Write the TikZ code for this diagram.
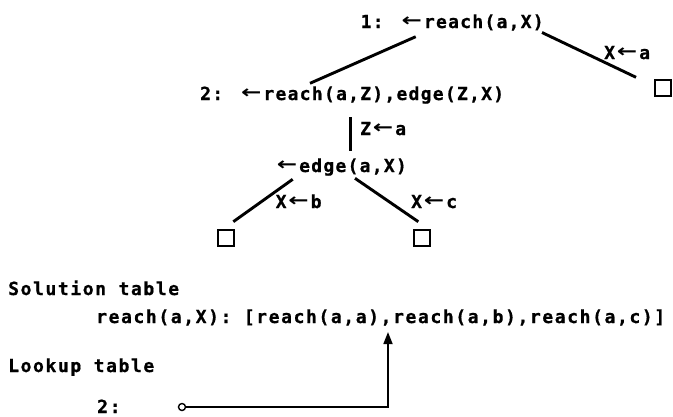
\documentclass[tikz,border=0pt]{standalone}
\usepackage{fontspec}
\usepackage{graphicx}
\usetikzlibrary{arrows.meta}
\newfontfamily\monoA[LetterSpace=7.0,FakeBold=0.8]{DejaVu Sans Mono}
\newfontfamily\monoB[LetterSpace=8.9,FakeBold=0.8]{DejaVu Sans Mono}
\newfontfamily\arrfont{DejaVu Sans}
\newcommand\la{\makebox[24.2bp][c]{\raisebox{1.2bp}{\scalebox{1.35}[1]{\arrfont\bfseries ←}}}}
\tikzset{
  txt/.style={inner sep=0pt, anchor=base west, font=\monoA\bfseries\fontsize{18bp}{21bp}\selectfont},
  txtB/.style={txt, font=\monoB\bfseries\fontsize{18bp}{21bp}\selectfont},
  branch/.style={line width=2.9bp},
  leaf/.style={draw, line width=1.8bp, minimum size=16bp, inner sep=0pt},
  link/.style={line width=1.7bp},
}
\begin{document}
\begin{tikzpicture}[x=1bp,y=-1bp]
\useasboundingbox (0,0) rectangle (673,416);
% tree nodes
\node[txt] (n1) at (360.5,28) {1: \la reach(a,X)};
\node[txt] (n2) at (200,100) {2: \la reach(a,Z),edge(Z,X)};
\node[txt] (n3) at (274.8,172) {\la edge(a,X)};
\node[leaf] (b0) at (663,88) {};
\node[leaf] (b1) at (226,238) {};
\node[leaf] (b2) at (421.7,238) {};
% edge labels
\node[txt] (la) at (604,59) {X\la a};
\node[txt] (lz) at (360,135) {Z\la a};
\node[txt] (lb) at (275.5,208) {X\la b};
\node[txt] (lc) at (411,208) {X\la c};
% connector end points
\coordinate (n1a) at (415.7,36.7);
\coordinate (n2a) at (310,83.3);
\coordinate (n1b) at (542,32.5);
\coordinate (b0a) at (636,77.3);
\coordinate (n2b) at (350.7,117);
\coordinate (n3a) at (350.7,151);
\coordinate (n3b) at (292.7,179.3);
\coordinate (b1a) at (233.3,221.7);
\coordinate (n3c) at (355,178.3);
\coordinate (b2a) at (418.3,221.7);
\draw[branch] (n1a) -- (n2a);
\draw[branch] (n1b) -- (b0a);
\draw[branch] (n2b) -- (n3a);
\draw[branch] (n3b) -- (b1a);
\draw[branch] (n3c) -- (b2a);
% tables
\node[txtB] (sol) at (8,295) {Solution table};
\node[txtB] (solrow) at (96,323) {reach(a,X): [reach(a,a),reach(a,b),reach(a,c)]};
\node[txtB] (look) at (8,372) {Lookup table};
\node[txtB] (lrow) at (97,413) {2:};
\node[draw, circle, line width=1.4bp, minimum size=7bp, inner sep=0pt] (ptr) at (182,407) {};
\coordinate (corner) at (388,407);
\coordinate (tip) at (388,332);
\draw[link, -{Triangle[length=12bp,width=9bp]}] (ptr) -- (corner) -- (tip);
\end{tikzpicture}
\end{document}
